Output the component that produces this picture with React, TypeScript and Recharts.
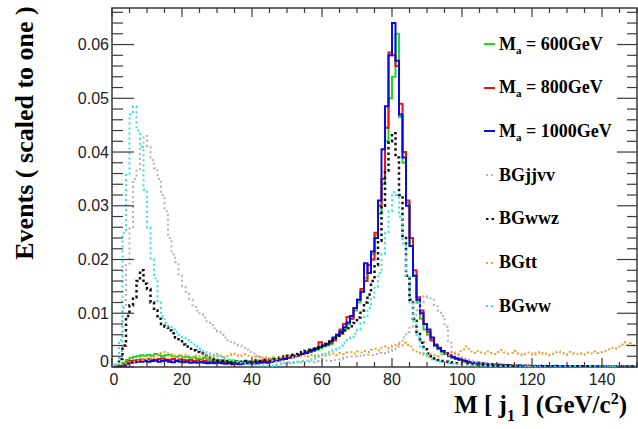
import { ComposedChart, Line, XAxis, YAxis, ReferenceArea } from "recharts";

// histogram bins: 1 GeV wide, 0..150 (values in units of 1e-3, "scaled to one")
const binEdges = Array.from({ length: 151 }, (_, i) => i);

const ma600 = [
  0, 0.1, 0.3, 0.8, 1.3, 1.7, 1.9, 2.0, 2.2, 2.1,
  2.3, 2.1, 2.4, 2.2, 2.0, 2.2, 2.3, 2.0, 1.9, 2.1,
  1.8, 1.9, 1.7, 1.8, 1.6, 1.5, 1.7, 1.4, 1.3, 1.4,
  1.2, 1.3, 1.1, 1.0, 1.2, 1.1, 0.9, 1.0, 1.1, 0.9,
  1.0, 1.2, 1.1, 1.3, 1.2, 1.4, 1.5, 1.4, 1.6, 1.8,
  1.9, 2.0, 2.2, 2.1, 2.4, 2.6, 2.8, 3.0, 3.2, 3.5,
  3.8, 4.0, 4.3, 5.2, 5.8, 6.5, 7.2, 8.0, 9.0, 10.5,
  12.0, 14.0, 16.5, 17.5, 21.0, 24.5, 28.5, 34.0, 42.0, 50.0,
  54.0, 62.0, 46.5, 38.0, 30.5, 22.5, 17.0, 12.0, 9.0, 7.0,
  6.0, 5.0, 4.0, 3.3, 2.8, 2.4, 2.0, 1.7, 1.5, 1.3,
  1.1, 1.0, 0.9, 0.8, 0.7, 0.6, 0.6, 0.5, 0.5, 0.4,
  0.4, 0.3, 0.3, 0.3, 0.3, 0.2, 0.3, 0.2, 0.2, 0.2,
  0.2, 0.2, 0.2, 0.2, 0.1, 0.2, 0.2, 0.1, 0.2, 0.1,
  0.1, 0.2, 0.1, 0.1, 0.1, 0.1, 0.2, 0.1, 0.1, 0.1,
  0.1, 0.1, 0.1, 0.1, 0.1, 0.1, 0.1, 0.1, 0.1, 0.1,
];

const ma800 = [
  0, 0.1, 0.2, 0.5, 0.9, 1.1, 1.2, 1.3, 1.4, 1.3,
  1.5, 1.4, 1.3, 1.5, 1.6, 1.4, 1.3, 1.5, 1.2, 1.4,
  1.3, 1.2, 1.3, 1.1, 1.2, 1.0, 1.1, 1.0, 0.9, 1.0,
  0.9, 1.0, 0.8, 0.9, 0.8, 0.7, 0.9, 0.8, 0.8, 0.9,
  0.8, 1.0, 0.9, 1.1, 1.0, 1.2, 1.3, 1.2, 1.5, 1.7,
  1.8, 2.0, 2.1, 2.3, 2.4, 2.7, 2.9, 3.2, 3.5, 4.6,
  4.0, 4.2, 4.5, 5.0, 6.0, 7.0, 8.0, 9.3, 9.0, 11.0,
  12.5, 14.5, 16.0, 19.0, 20.0, 25.0, 30.0, 35.0, 44.5, 58.5,
  58.0, 56.0, 49.0, 40.0, 31.0, 24.0, 18.0, 13.0, 10.5, 8.0,
  6.5, 5.0, 4.2, 3.6, 3.0, 2.6, 2.2, 1.9, 1.6, 1.4,
  1.2, 1.0, 0.9, 0.8, 0.8, 0.7, 0.6, 0.5, 0.5, 0.4,
  0.4, 0.4, 0.3, 0.3, 0.2, 0.3, 0.2, 0.2, 0.3, 0.2,
  0.2, 0.2, 0.1, 0.2, 0.2, 0.2, 0.1, 0.2, 0.1, 0.1,
  0.2, 0.1, 0.1, 0.1, 0.2, 0.1, 0.1, 0.1, 0.1, 0.1,
  0.1, 0.1, 0.1, 0.1, 0.1, 0.1, 0.1, 0.1, 0.1, 0.1,
];

const ma1000 = [
  0, 0, 0.1, 0.3, 0.6, 0.8, 0.9, 1.0, 1.0, 1.1,
  1.0, 1.1, 1.2, 1.0, 1.1, 1.2, 1.0, 0.9, 1.1, 1.0,
  0.9, 1.0, 0.8, 0.9, 0.8, 0.9, 0.8, 0.7, 0.8, 0.7,
  0.8, 0.7, 0.6, 0.7, 0.5, 0.6, 0.5, 0.6, 0.7, 0.6,
  0.6, 0.7, 0.8, 0.9, 0.8, 1.0, 1.1, 1.2, 1.4, 1.5,
  1.7, 1.8, 2.0, 2.2, 2.4, 2.6, 2.9, 3.1, 3.4, 3.7,
  4.0, 4.3, 4.8, 5.5, 6.0, 6.6, 7.4, 8.3, 9.5, 11.0,
  12.5, 14.0, 19.3, 17.5, 21.5, 24.0, 31.0, 40.5, 48.5, 58.0,
  64.0, 57.0, 47.0, 39.0, 30.0, 22.5, 17.0, 12.5, 10.0, 8.0,
  7.0, 5.5, 4.0, 3.5, 3.0, 2.5, 2.1, 1.8, 1.6, 1.4,
  1.2, 1.1, 0.9, 0.8, 0.8, 0.7, 0.6, 0.5, 0.5, 0.4,
  0.4, 0.3, 0.3, 0.3, 0.2, 0.2, 0.3, 0.2, 0.2, 0.2,
  0.2, 0.2, 0.1, 0.2, 0.2, 0.1, 0.2, 0.1, 0.1, 0.2,
  0.1, 0.1, 0.1, 0.2, 0.1, 0.1, 0.1, 0.1, 0.1, 0.1,
  0.1, 0.1, 0.1, 0.1, 0.1, 0.1, 0.1, 0.1, 0.1, 0.1,
];

const bgJjvv = [
  0, 0.3, 3.0, 11.0, 19.0, 26.0, 35.0, 36.5, 41.0, 43.0,
  41.0, 38.5, 37.0, 35.0, 32.0, 29.0, 24.0, 21.0, 19.5, 17.0,
  15.0, 14.0, 12.5, 11.5, 10.5, 9.8, 9.2, 8.5, 7.8, 7.2,
  6.6, 6.0, 5.5, 5.0, 4.7, 4.4, 4.0, 3.6, 3.2, 2.8,
  2.5, 2.1, 1.8, 1.6, 1.4, 1.2, 1.0, 0.9, 1.0, 0.8,
  0.9, 0.8, 0.9, 1.0, 0.8, 0.9, 1.0, 0.9, 1.1, 1.0,
  1.1, 1.2, 1.1, 1.3, 1.4, 1.5, 1.7, 1.8, 1.9, 2.0,
  2.1, 2.0, 2.2, 2.3, 2.2, 2.4, 2.6, 2.5, 2.8, 3.0,
  3.2, 3.8, 4.5, 5.5, 6.5, 7.5, 9.0, 10.5, 12.0, 13.2,
  13.0, 12.5, 11.5, 10.5, 9.5, 7.5, 4.5, 2.8, 2.2, 1.8,
  1.6, 1.4, 1.2, 1.0, 0.9, 0.8, 0.7, 0.6, 0.6, 0.5,
  0.5, 0.4, 0.4, 0.4, 0.3, 0.3, 0.3, 0.3, 0.2, 0.3,
  0.2, 0.2, 0.3, 0.2, 0.2, 0.2, 0.2, 0.2, 0.2, 0.2,
  0.2, 0.2, 0.2, 0.1, 0.2, 0.2, 0.2, 0.1, 0.2, 0.2,
  0.2, 0.1, 0.2, 0.2, 0.2, 0.1, 0.2, 0.2, 0.1, 0.2,
];

const bgWwz = [
  0, 0.2, 1.5, 4.0, 9.5, 11.5, 13.0, 16.0, 18.0, 15.5,
  14.5, 12.0, 10.5, 9.0, 8.0, 7.5, 6.8, 6.3, 5.5, 4.8,
  4.2, 3.8, 3.4, 3.1, 2.8, 2.5, 2.1, 1.8, 1.5, 1.3,
  1.2, 1.1, 1.0, 1.1, 0.9, 1.0, 0.9, 1.0, 1.1, 1.0,
  1.1, 1.2, 1.1, 1.3, 1.4, 1.5, 1.6, 1.7, 1.8, 2.0,
  2.1, 2.3, 2.4, 2.6, 2.8, 3.0, 3.2, 3.4, 3.6, 3.9,
  4.2, 4.6, 5.0, 5.4, 5.8, 6.3, 6.8, 7.2, 7.6, 8.2,
  9.2, 10.5, 12.0, 13.5, 16.0, 19.0, 23.5, 30.0, 36.5, 42.0,
  43.5, 39.0, 32.0, 24.0, 17.0, 12.5, 9.0, 6.5, 4.5, 3.3,
  2.5, 2.0, 1.6, 1.3, 1.1, 1.0, 0.9, 0.8, 0.7, 0.7,
  0.6, 0.6, 0.5, 0.5, 0.4, 0.4, 0.4, 0.3, 0.3, 0.3,
  0.3, 0.3, 0.2, 0.3, 0.2, 0.2, 0.2, 0.2, 0.2, 0.2,
  0.2, 0.2, 0.2, 0.1, 0.2, 0.1, 0.2, 0.1, 0.1, 0.1,
  0.1, 0.1, 0.1, 0.1, 0.1, 0.1, 0.1, 0.1, 0.1, 0.1,
  0.1, 0.1, 0.1, 0.1, 0.1, 0.1, 0.1, 0.1, 0.1, 0.1,
];

const bgTt = [
  0.3, 0.4, 0.5, 0.6, 0.7, 0.9, 1.0, 1.2, 1.3, 1.5,
  1.6, 1.8, 2.2, 2.6, 2.8, 2.5, 2.4, 2.0, 2.2, 1.9,
  2.1, 2.3, 2.0, 1.8, 2.2, 2.0, 2.3, 1.9, 2.1, 2.0,
  2.4, 2.1, 1.8, 2.3, 2.5, 2.2, 2.0, 2.4, 2.1, 1.9,
  1.7, 2.0, 1.6, 1.8, 1.5, 1.6, 1.8, 1.5, 1.7, 1.9,
  2.0, 1.8, 2.1, 2.0, 2.2, 1.9, 2.1, 2.3, 2.0, 2.2,
  2.4, 2.1, 2.3, 2.5, 2.2, 2.6, 2.4, 2.7, 2.8, 2.5,
  2.9, 2.7, 3.0, 2.8, 3.2, 3.4, 3.1, 3.6, 3.8, 3.5,
  4.0, 4.3, 4.0, 4.5, 4.1, 3.8, 3.2, 2.9, 2.5, 2.3,
  2.1, 2.4, 2.2, 2.0, 2.3, 2.5, 2.2, 2.8, 2.4, 3.0,
  3.3, 3.8, 2.9, 2.6, 3.0, 2.7, 2.5, 2.9, 2.6, 2.4,
  2.8, 3.1, 2.7, 2.5, 2.6, 3.0, 2.4, 2.2, 2.7, 2.5,
  2.3, 2.6, 2.8, 2.4, 2.5, 2.2, 2.7, 2.9, 2.6, 2.3,
  2.8, 2.5, 2.4, 2.6, 2.3, 2.7, 2.5, 2.9, 2.6, 2.8,
  3.0, 3.3, 3.6, 3.4, 3.8, 4.2, 4.6, 4.1, 4.4, 4.0,
];

const bgWw = [
  0, 0.5, 5.0, 25.0, 36.0, 47.0, 48.5, 44.0, 41.0, 33.0,
  26.0, 20.0, 16.5, 12.0, 9.5, 8.2, 7.5, 7.0, 6.5, 6.0,
  5.5, 5.0, 4.6, 4.2, 3.8, 3.4, 3.0, 2.7, 2.5, 2.3,
  2.1, 1.9, 1.6, 1.4, 1.2, 1.0, 0.8, 0.7, 0.6, 0.5,
  0.5, 0.4, 0.3, 0.3, 0.2, 0.2, 0.3, 0.4, 0.5, 0.6,
  0.7, 0.8, 0.9, 1.0, 1.1, 1.2, 1.3, 1.5, 1.7, 1.9,
  2.2, 2.5, 2.8, 3.2, 3.6, 4.0, 4.5, 5.0, 5.5, 6.2,
  7.0, 8.2, 9.5, 11.0, 13.0, 15.0, 17.5, 21.0, 25.0, 29.0,
  32.5, 32.0, 28.0, 23.0, 17.0, 12.0, 8.5, 5.5, 3.5, 2.5,
  1.8, 1.4, 1.2, 1.0, 0.9, 0.8, 0.7, 0.6, 0.5, 0.45,
  0.4, 0.4, 0.35, 0.3, 0.3, 0.3, 0.25, 0.25, 0.2, 0.2,
  0.2, 0.2, 0.2, 0.15, 0.15, 0.15, 0.1, 0.1, 0.1, 0.1,
  0.1, 0.1, 0.1, 0.1, 0.1, 0.1, 0.1, 0.1, 0.1, 0.1,
  0.1, 0.1, 0.1, 0.1, 0.1, 0.1, 0.1, 0.1, 0.1, 0.1,
  0.1, 0.1, 0.1, 0.1, 0.1, 0.1, 0.1, 0.1, 0.1, 0.1,
];

const yMajorTicks = [0, 10, 20, 30, 40, 50, 60];
const yTickLabels = ["0", "0.01", "0.02", "0.03", "0.04", "0.05", "0.06"];
const yAllTicks = [
  0, 2, 4, 6, 8, 10, 12, 14, 16, 18, 20, 22, 24, 26, 28, 30, 32, 34,
  36, 38, 40, 42, 44, 46, 48, 50, 52, 54, 56, 58, 60, 62, 64, 66,
];
const xMajorTicks = [0, 20, 40, 60, 80, 100, 120, 140];
const xTickLabels = ["0", "20", "40", "60", "80", "100", "120", "140"];
const xAllTicks = [
  0, 5, 10, 15, 20, 25, 30, 35, 40, 45, 50, 55, 60, 65, 70, 75, 80, 85,
  90, 95, 100, 105, 110, 115, 120, 125, 130, 135, 140, 145, 150,
];

const series = [
  { key: "ma600", values: ma600, color: "#1fd81f", dash: undefined as string | undefined, width: 2 },
  { key: "ma800", values: ma800, color: "#f01010", dash: undefined, width: 2 },
  { key: "ma1000", values: ma1000, color: "#0a0ae6", dash: undefined, width: 2 },
  { key: "bgJjvv", values: bgJjvv, color: "#b4b4b4", dash: "2 3", width: 2 },
  { key: "bgWwz", values: bgWwz, color: "#111111", dash: "2.5 3", width: 2.5 },
  { key: "bgTt", values: bgTt, color: "#f0a030", dash: "2 3", width: 2 },
  { key: "bgWw", values: bgWw, color: "#2ee4e4", dash: "2 3", width: 2 },
];

const legendNames = ["600GeV", "800GeV", "1000GeV", "BGjjvv", "BGwwz", "BGtt", "BGww"];

const rows = binEdges.map((edge, i) => {
  const row: Record<string, number> = { m: edge };
  series.forEach((s) => {
    row[s.key] = s.values[Math.min(i, s.values.length - 1)];
  });
  return row;
});

const PLOT_LEFT = 112;
const PLOT_RIGHT = 637;
const PLOT_TOP = 8;
const PLOT_BOTTOM = 367;
const AXIS_COLOR = "#3a3a3a";
const TICK_FONT = "'Liberation Sans', Arial, Helvetica, sans-serif";
const SERIF = "'Liberation Serif', 'Times New Roman', serif";

function YTick(props: any) {
  const { y, payload } = props;
  const v = payload.value;
  const idx = yMajorTicks.indexOf(v);
  const major = idx >= 0;
  return (
    <g>
      <line x1={PLOT_LEFT} x2={PLOT_LEFT + (major ? 22 : 11)} y1={y} y2={y} stroke={AXIS_COLOR} strokeWidth={1.2} />
      <line x1={PLOT_RIGHT - (major ? 20 : 10)} x2={PLOT_RIGHT} y1={y} y2={y} stroke={AXIS_COLOR} strokeWidth={1.2} />
      {major && (
        <text
          x={PLOT_LEFT - 3}
          y={v === 0 ? y - 6 : y}
          textAnchor="end"
          dominantBaseline="central"
          fontFamily={TICK_FONT}
          fontSize={16}
          fill="#222"
        >
          {yTickLabels[idx]}
        </text>
      )}
    </g>
  );
}

function XTick(props: any) {
  const { x, payload } = props;
  const v = payload.value;
  const idx = xMajorTicks.indexOf(v);
  const major = idx >= 0;
  const len = major ? 9 : 5;
  return (
    <g>
      <line x1={x} x2={x} y1={PLOT_BOTTOM} y2={PLOT_BOTTOM - len} stroke={AXIS_COLOR} strokeWidth={1.2} />
      <line x1={x} x2={x} y1={PLOT_TOP} y2={PLOT_TOP + len} stroke={AXIS_COLOR} strokeWidth={1.2} />
      {major && (
        <text
          x={x + (v === 0 ? 2 : 0)}
          y={379}
          textAnchor="middle"
          dominantBaseline="central"
          fontFamily={TICK_FONT}
          fontSize={16}
          fill="#222"
        >
          {xTickLabels[idx]}
        </text>
      )}
    </g>
  );
}

function LegendRow({ index }: { index: number }) {
  const s = series[index];
  const name = legendNames[index];
  const isSignal = index < 3;
  return (
    <div
      style={{
        position: "absolute",
        left: 482,
        top: 44 + index * 43.7 - 12,
        height: 24,
        display: "flex",
        alignItems: "center",
        fontFamily: SERIF,
        fontWeight: "bold",
        fontSize: 18,
        color: "#000",
        whiteSpace: "nowrap",
      }}
    >
      <svg width={15} height={6} style={{ marginRight: 2 }}>
        <line
          x1={isSignal ? 2 : 4}
          x2={13}
          y1={3}
          y2={3}
          stroke={s.color}
          strokeWidth={isSignal ? 2 : 2.2}
          strokeDasharray={s.dash}
        />
      </svg>
      {isSignal ? (
        <span>
          M<span style={{ fontSize: 11, position: "relative", top: 4 }}>a</span> = {name}
        </span>
      ) : (
        <span>{name}</span>
      )}
    </div>
  );
}

export default function App() {
  return (
    <div style={{ position: "absolute", left: 0, top: 0, width: 638, height: 429, background: "#fff" }}>
      <ComposedChart
        width={638}
        height={429}
        data={rows}
        margin={{ top: PLOT_TOP, right: 638 - PLOT_RIGHT, bottom: 32, left: PLOT_LEFT - 60 }}
      >
        <XAxis
          dataKey="m"
          type="number"
          domain={[0, 150]}
          ticks={xAllTicks}
          interval={0}
          height={30}
          axisLine={false}
          tickLine={false}
          tick={<XTick />}
          allowDataOverflow
        />
        <YAxis
          type="number"
          domain={[0, 66.8]}
          ticks={yAllTicks}
          interval={0}
          width={60}
          axisLine={false}
          tickLine={false}
          tick={<YTick />}
          allowDataOverflow
        />
        {series.map((s) => (
          <Line
            key={s.key}
            type="stepAfter"
            dataKey={s.key}
            stroke={s.color}
            strokeWidth={s.width}
            strokeDasharray={s.dash}
            dot={false}
            activeDot={false}
            isAnimationActive={false}
          />
        ))}
        <ReferenceArea x1={0} x2={150} y1={0} y2={66.8} fill="none" stroke={AXIS_COLOR} strokeWidth={1.5} ifOverflow="visible" />
      </ComposedChart>

      {legendNames.map((_, i) => (
        <LegendRow key={i} index={i} />
      ))}

      <div
        style={{
          position: "absolute",
          left: 25 - 150,
          top: 133 - 16,
          width: 300,
          height: 32,
          lineHeight: "32px",
          textAlign: "center",
          transform: "rotate(-90deg)",
          fontFamily: SERIF,
          fontWeight: "bold",
          fontSize: 26,
          color: "#000",
          whiteSpace: "nowrap",
        }}
      >
        Events ( scaled to one )
      </div>

      <div
        style={{
          position: "absolute",
          right: 11,
          top: 392,
          lineHeight: "25px",
          fontFamily: SERIF,
          fontWeight: "bold",
          fontSize: 25,
          color: "#000",
          whiteSpace: "nowrap",
        }}
      >
        M [ j<span style={{ fontSize: 16, position: "relative", top: 8 }}>1</span> ] (GeV/c
        <span style={{ fontSize: 16, position: "relative", top: -9 }}>2</span>)
      </div>
    </div>
  );
}
